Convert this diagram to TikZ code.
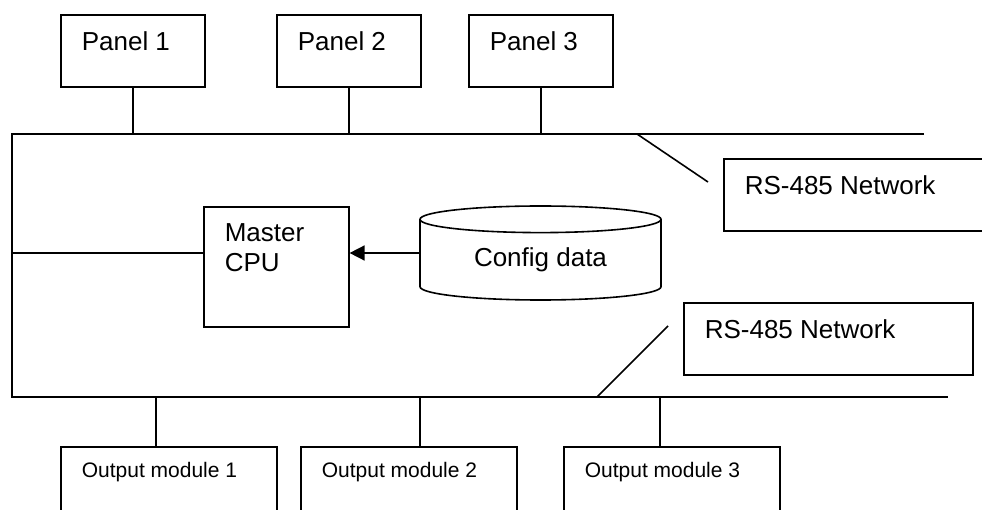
\documentclass[tikz,border=0pt]{standalone}
\usepackage{fontspec}
\setmainfont{Liberation Sans}
\usetikzlibrary{arrows.meta,positioning,shapes.geometric}

\begin{document}
\begin{tikzpicture}[x=1pt, y=-1pt,
  line width=1.6pt,
  box/.style={rectangle, draw, anchor=north west, inner sep=0pt},
  txt/.style={anchor=north west, inner xsep=21pt, inner ysep=17pt, align=left,
              font=\fontsize{26}{30}\selectfont},
  small/.style={anchor=north west, inner xsep=21pt, inner ysep=15pt,
              font=\fontsize{21}{25}\selectfont},
  arr/.style={-{Triangle[length=15pt,width=15pt]}}]
\clip (0,0) rectangle (982,510);
% panels on the top bus
\node[box, minimum width=144pt, minimum height=72pt, label={[txt]north west:Panel 1}] (p1) at (60,14) {};
\node[box, minimum width=144pt, minimum height=72pt, label={[txt]north west:Panel 2}] (p2) at (276,14) {};
\node[box, minimum width=144pt, minimum height=72pt, label={[txt]north west:Panel 3}] (p3) at (468,14) {};
% bus corners
\coordinate (tl) at (12,134);
\coordinate (tr) at (924,134);
\coordinate (bl) at (12,397);
\coordinate (br) at (948,397);
\draw (tr) -- (tl) -- (bl) -- (br);
\foreach \p in {p1,p2,p3}
  \draw (\p.south) -- (\p.south |- tl);
% network labels
\node[box, minimum width=289pt, minimum height=72pt, label={[txt]north west:RS-485 Network}] (net1) at (723,158) {};
\node[box, minimum width=289pt, minimum height=72pt, label={[txt]north west:RS-485 Network}] (net2) at (683,302) {};
\coordinate (lead1) at (637,134);
\coordinate (end1) at (708,182);
\coordinate (lead2) at (597,397);
\coordinate (end2) at (668,326);
\draw (lead1) -- (end1);
\draw (lead2) -- (end2);
% master cpu and config store
\node[box, minimum width=145pt, minimum height=120pt, label={[txt]north west:Master\\CPU}] (cpu) at (203,206) {};
\node[cylinder, draw, shape border rotate=90, aspect=0.2, minimum width=241pt, minimum height=94pt,
      inner sep=0pt, font=\fontsize{26}{30}\selectfont, anchor=shape center] (cfg) at (540.5,253) {Config data};
\draw[arr] (cfg.shape center -| cfg.west) -- (cfg.shape center -| cpu.east);
\draw (cpu.west |- cfg.shape center) -- (tl |- cfg.shape center);
% output modules on the bottom bus
\node[box, minimum width=216pt, minimum height=90pt, label={[small]north west:Output module 1}] (o1) at (60,446) {};
\node[box, minimum width=216pt, minimum height=90pt, label={[small]north west:Output module 2}] (o2) at (300,446) {};
\node[box, minimum width=216pt, minimum height=90pt, label={[small]north west:Output module 3}] (o3) at (563,446) {};
\coordinate (b1) at (156,397);
\coordinate (b2) at (420,397);
\coordinate (b3) at (660,397);
\draw (b1) -- (b1 |- o1.north);
\draw (b2) -- (b2 |- o2.north);
\draw (b3) -- (b3 |- o3.north);
\end{tikzpicture}
\end{document}
